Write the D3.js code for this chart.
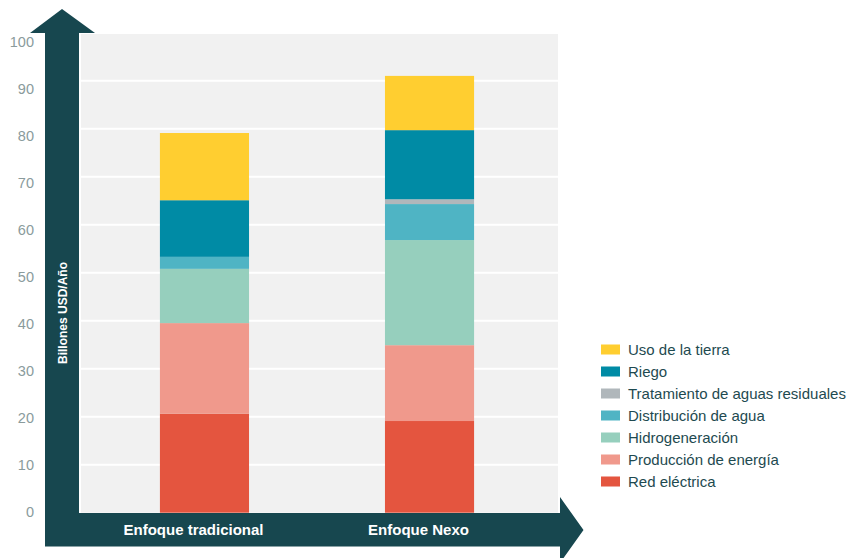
<!DOCTYPE html>
<html>
<head>
<meta charset="utf-8">
<script src="https://cdnjs.cloudflare.com/ajax/libs/d3/7.8.5/d3.min.js"></script>
<style>
  body { margin: 0; background: #fff; }
  svg { display: block; font-family: "Liberation Sans", Arial, sans-serif; }
</style>
</head>
<body>
<svg id="chart" width="848" height="558"></svg>
<script>
var categories = ["Enfoque tradicional", "Enfoque Nexo"];
var seriesNames = ["Red eléctrica", "Producción de energía", "Hidrogeneración",
  "Distribución de agua", "Tratamiento de aguas residuales", "Riego", "Uso de la tierra"];
var seriesColors = ["#E4553F", "#F0998C", "#96CFBD", "#4FB4C4", "#B0B7BB", "#008BA5", "#FFCE30"];
var tradicional = [20.6, 18.9, 11.3, 2.5, 0, 11.8, 14.0];
var nexo = [19.1, 15.8, 21.9, 7.5, 1.0, 14.4, 11.3];
var tickValues = [0, 10, 20, 30, 40, 50, 60, 70, 80, 90, 100];

var DARK = "#17474F";
var svg = d3.select("#chart");

// build rows for the stack
var rows = categories.map(function(c, i) {
  var vals = i == 0 ? tradicional : nexo;
  var row = { cat: c };
  seriesNames.forEach(function(s, j) { row[s] = vals[j]; });
  return row;
});
var stacked = d3.stack().keys(seriesNames)(rows);

var x = d3.scaleBand().domain(categories).range([78, 556]).paddingInner(0.604).paddingOuter(0.364);
var y = d3.scaleLinear().domain([0, 100]).range([512.7, 32.7]);
// tick labels sit on a slightly different spacing than the gridlines in the original
var yLabel = d3.scaleLinear().domain([0, 100]).range([511.5, 42]);

// plot background
svg.append("rect")
  .attr("x", 81).attr("y", 34)
  .attr("width", 477).attr("height", y(0) - 34)
  .attr("fill", "#F1F1F1");

// gridlines
svg.append("g").selectAll("line")
  .data(tickValues.filter(function(d) { return d > 0 && d < 100; }))
  .join("line")
  .attr("x1", 81).attr("x2", 558)
  .attr("y1", function(d) { return y(d); })
  .attr("y2", function(d) { return y(d); })
  .attr("stroke", "#fff").attr("stroke-width", 2);

// bars
svg.append("g").selectAll("g")
  .data(stacked)
  .join("g")
  .attr("fill", function(d, i) { return seriesColors[i]; })
  .selectAll("rect")
  .data(function(d) { return d; })
  .join("rect")
  .attr("x", function(d) { return x(d.data.cat); })
  .attr("width", x.bandwidth())
  .attr("y", function(d) { return y(d[1]); })
  .attr("height", function(d) { return y(d[0]) - y(d[1]); });

// axis arrows
svg.append("path")
  .attr("d", "M45,546.5 L45,33 L30,33 L62,9 L95,33 L79,33 L79,513 L560,513 L560,497 L583.5,530 L560,563 L560,546.5 Z")
  .attr("fill", DARK);

// y tick labels
var yAxis = d3.axisLeft(yLabel).tickValues(tickValues).tickSize(0).tickPadding(0);
var gy = svg.append("g").attr("transform", "translate(34,0)").call(yAxis);
gy.select(".domain").remove();
gy.selectAll("text")
  .attr("fill", "#8A9B9C")
  .style("font-size", "14.5px")
  .style("font-family", "Liberation Sans, Arial, sans-serif");

// x labels (slightly left of the bar centres, as in the original)
var xAxis = d3.axisBottom(x).tickSize(0).tickPadding(0);
var gx = svg.append("g").attr("transform", "translate(-11,524)").call(xAxis);
gx.select(".domain").remove();
gx.selectAll("text")
  .attr("fill", "#fff")
  .style("font-size", "15px")
  .style("font-weight", "bold")
  .style("font-family", "Liberation Sans, Arial, sans-serif");

// y title
svg.append("text")
  .attr("transform", "translate(67,313) rotate(-90)")
  .attr("text-anchor", "middle")
  .attr("fill", "#fff")
  .style("font-size", "12px")
  .style("font-weight", "bold")
  .text("Billones USD/Año");

// legend
var legendOrder = seriesNames.slice().reverse();
var legend = svg.append("g").selectAll("g")
  .data(legendOrder)
  .join("g")
  .attr("transform", function(d, i) { return "translate(601," + (349.5 + i * 22) + ")"; });
legend.append("rect")
  .attr("x", 0).attr("y", -5)
  .attr("width", 19).attr("height", 10)
  .attr("fill", function(d) { return seriesColors[seriesNames.indexOf(d)]; });
legend.append("text")
  .attr("x", 27).attr("y", 5.5)
  .attr("fill", "#1E4A50")
  .style("font-size", "15px")
  .text(function(d) { return d; });
</script>
</body>
</html>
